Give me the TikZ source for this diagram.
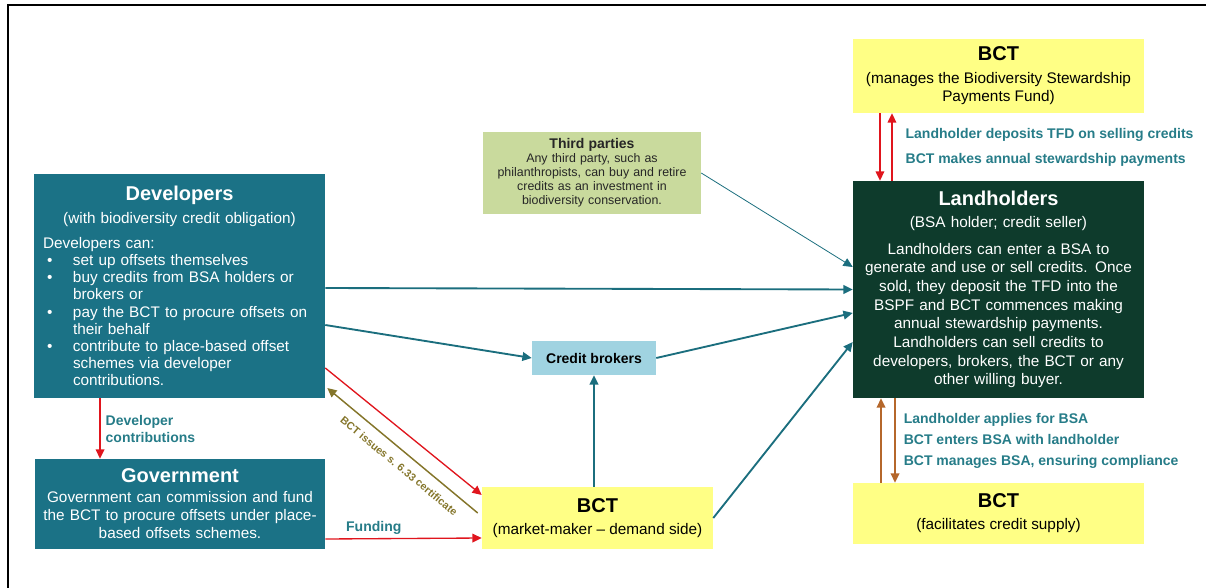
\documentclass[tikz,border=0pt]{standalone}
\usepackage{fontspec}
\setmainfont{Liberation Sans}
\definecolor{devteal}{HTML}{1B7286}
\definecolor{landgreen}{HTML}{0E3B2C}
\definecolor{bctyellow}{HTML}{FFFF85}
\definecolor{thirdgreen}{HTML}{C9DA9D}
\definecolor{brokblue}{HTML}{A0D3E1}
\definecolor{arrteal}{HTML}{1B6E7E}
\definecolor{lblteal}{HTML}{267C88}
\definecolor{arrred}{HTML}{E0151D}
\definecolor{arrbrown}{HTML}{B5672B}
\definecolor{arrolive}{HTML}{84752A}
\usetikzlibrary{arrows.meta}

\newcommand{\titlefont}{\fontsize{15}{17}\selectfont\bfseries}
\newcommand{\devitem}[1]{\par\hangindent=22.5pt\hangafter=1\noindent
  \makebox[22.5pt][l]{\hspace{3pt}\textbullet}#1}

\begin{document}
\begin{tikzpicture}[x=0.75pt,y=-0.75pt,
  tealbox/.style={fill=devteal,text=white,inner sep=0pt,
    font=\fontsize{11.5}{12.9}\selectfont},
  landbox/.style={fill=landgreen,text=white,inner sep=0pt,align=center,
    font=\fontsize{11.5}{14}\selectfont},
  bctbox/.style={fill=bctyellow,text=black,inner sep=0pt,align=center,
    minimum width=218.25pt,font=\fontsize{11.5}{13.5}\selectfont},
  thirdbox/.style={fill=thirdgreen,text=black!85,inner sep=0pt,align=center,
    font=\fontsize{9.3}{10.5}\selectfont},
  brokbox/.style={fill=brokblue,text=black,inner sep=0pt,
    font=\fontsize{10.5}{12}\selectfont\bfseries},
  lbl/.style={text=lblteal,inner sep=0pt,align=left},
  cert/.style={text=arrolive,inner sep=0pt,font=\fontsize{8}{9}\selectfont\bfseries},
  arr/.style={-{Triangle[length=7pt,width=6.5pt]},line width=1.4pt,arrteal},
  redarr/.style={-{Triangle[length=7pt,width=6.5pt]},line width=1pt,arrred},
  brownarr/.style={-{Triangle[length=7pt,width=6.5pt]},line width=1.2pt,arrbrown},
  olivearr/.style={-{Triangle[length=7pt,width=6.5pt]},line width=1.1pt,arrolive}]
  \useasboundingbox (0,0) rectangle (1206,588);
  \draw[line width=1.5pt] (8,588) -- (8,5) -- (1206,5);

  \node[tealbox,text width=204.75pt,minimum width=218.25pt,minimum height=168pt]
    (dev) at (179.5,286) {\parindent=0pt
    {\centering{\titlefont Developers}\\[4.5pt]
    (with biodiversity credit obligation)\par}
    \vspace{5.5pt}
    {\raggedright Developers can:
    \devitem{set up offsets themselves}
    \devitem{buy credits from BSA holders or\newline brokers or}
    \devitem{pay the BCT to procure offsets on\newline their behalf}
    \devitem{contribute to place-based offset\newline schemes via developer\newline
      contributions.}\par}};
  \node[tealbox,align=center,text width=212pt,minimum width=217.5pt,
    minimum height=67.5pt,font=\fontsize{11.5}{13.5}\selectfont] (gov) at (180,504)
    {{\titlefont Government}\\[1.5pt]
    Government can commission and fund\\
    the BCT to procure offsets under place-\\
    based offsets schemes.};
  \node[thirdbox,text width=160pt,minimum width=163.5pt,minimum height=61.5pt]
    (third) at (592,173) {{\fontsize{10.5}{12}\selectfont\bfseries Third parties}\\
    Any third party, such as\\ philanthropists, can buy and retire\\
    credits as an investment in\\ biodiversity conservation.};
  \node[brokbox,minimum width=93pt,minimum height=25.5pt] (brok) at (594,358)
    {Credit brokers};
  \node[bctbox,minimum width=173.25pt,minimum height=46.5pt] (bctd) at (597.5,518)
    {{\titlefont BCT}\\[3pt](market-maker -- demand side)};
  \node[bctbox,minimum height=55.5pt] (bctt) at (998.5,76)
    {{\titlefont BCT}\\[3.75pt](manages the Biodiversity Stewardship\\Payments Fund)};
  \node[landbox,text width=215pt,minimum width=218.25pt,minimum height=162.75pt]
    (land) at (998.5,289.5) {{\titlefont Landholders}\\[2.5pt]
    (BSA holder; credit seller)\\[6.25pt]
    Landholders can enter a BSA to\\ generate and use or sell credits. Once\\
    sold, they deposit the TFD into the\\ BSPF and BCT commences making\\
    annual stewardship payments.\\ Landholders can sell credits to\\
    developers, brokers, the BCT or any\\ other willing buyer.};
  \node[bctbox,minimum height=45.75pt] (bctb) at (998.5,513.5)
    {{\titlefont BCT}\\[3pt](facilitates credit supply)};

  % flows into landholders
  \draw[arr] ([yshift=-1.5pt]dev.east) -- (land.west);
  \draw[arr] ([yshift=-29.25pt]dev.east) -- (brok.west);
  \draw[arr] (brok.east) -- ([yshift=-17.6pt]land.west);
  \draw[arr,line width=0.6pt] (third.east) -- ([yshift=16.9pt]land.west);
  \draw[arr] (bctd.east) -- ([yshift=-39.4pt]land.west);
  \draw[arr] (bctd.north -| brok.south) -- (brok.south);

  % developers, government and the BCT
  \draw[redarr] ([yshift=-61.5pt]dev.east) -- ([yshift=17.25pt]bctd.west);
  \draw[olivearr] ([xshift=-3pt,yshift=3.75pt]bctd.west)
    -- ([xshift=1.5pt,yshift=-76.5pt]dev.east);
  \node[cert,rotate=-39.6] (certlbl) at (399,466) {BCT issues s. 6.33 certificate};
  \draw[redarr] ([yshift=-26.25pt]gov.east) -- ([yshift=-15pt]bctd.west)
    node[lbl,pos=0.31,above=3pt,font=\fontsize{10.5}{12}\selectfont\bfseries]
    (fundlbl) {Funding};
  \draw[redarr] ([xshift=-59.6pt]dev.south) -- ([xshift=-59.6pt]dev.south |- gov.north)
    node[lbl,midway,right=3.75pt,font=\fontsize{10.5}{12.75}\selectfont\bfseries]
    (contlbl) {Developer\\contributions};

  % landholders and the BCT
  \draw[redarr] ([xshift=-88.9pt]bctt.south) -- ([xshift=-88.9pt]bctt.south |- land.north);
  \draw[redarr] ([xshift=-79.9pt]land.north) -- ([xshift=-79.9pt]land.north |- bctt.south)
    node[lbl,midway,right=9.75pt,font=\fontsize{10.5}{18.75}\selectfont\bfseries]
    (paylbl) {Landholder deposits TFD on selling credits\\
    BCT makes annual stewardship payments};
  \draw[brownarr] ([xshift=-88.1pt]bctb.north) -- ([xshift=-88.1pt]bctb.north |- land.south);
  \draw[brownarr] ([xshift=-77.6pt]land.south) -- ([xshift=-77.6pt]land.south |- bctb.north)
    node[lbl,midway,right=6pt,font=\fontsize{10.5}{15.75}\selectfont\bfseries]
    (bsalbl) {Landholder applies for BSA\\ BCT enters BSA with landholder\\
    BCT manages BSA, ensuring compliance};
\end{tikzpicture}
\end{document}
